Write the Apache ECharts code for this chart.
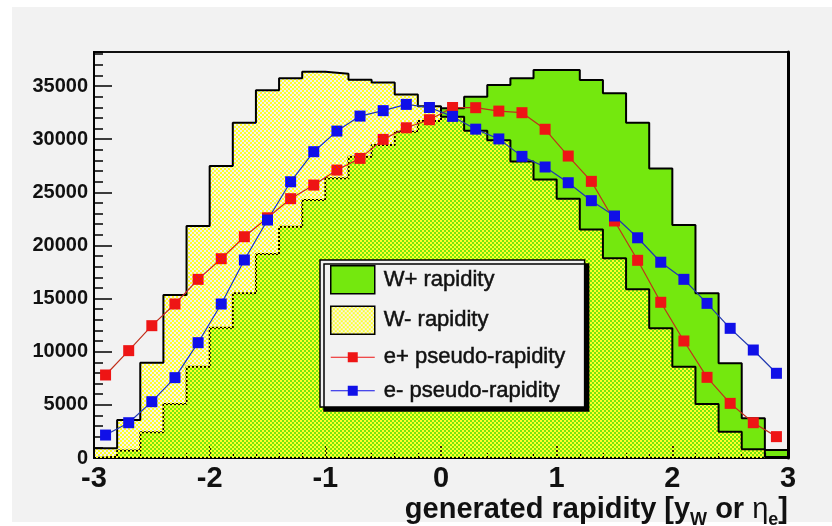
<!DOCTYPE html>
<html>
<head>
<meta charset="utf-8">
<title>W and electron rapidity</title>
<script src="https://cdn.jsdelivr.net/npm/echarts@6/dist/echarts.min.js"></script>
<style>
  html, body { margin: 0; padding: 0; background: #ffffff; }
  #chart { width: 832px; height: 526px; }
</style>
</head>
<body>
<div id="chart"></div>
<script>
// Rapidity bins: 30 bins of width 0.2 covering -3 .. 3
const binCentres = [-2.9, -2.7, -2.5, -2.3, -2.1, -1.9, -1.7, -1.5, -1.3, -1.1,
                    -0.9, -0.7, -0.5, -0.3, -0.1, 0.1, 0.3, 0.5, 0.7, 0.9,
                    1.1, 1.3, 1.5, 1.7, 1.9, 2.1, 2.3, 2.5, 2.7, 2.9];
const binWidth = 0.2;

// Generated W+ / W- rapidity (entries per bin)
const wPlusRapidity = [120, 700, 2420, 5080, 8590, 12260, 15490, 19200, 21760, 24270,
                       26310, 28350, 29450, 30700, 31700, 32900, 34000, 35090, 35720, 36500,
                       36500, 35560, 34310, 31540, 27250, 21920, 15490, 8910, 3730, 750];
const wMinusRapidity = [910, 3580, 8970, 15330, 21830, 27470, 31540, 34600, 35720, 36340,
                        36160, 35590, 35330, 34200, 33100, 32100, 30800, 29900, 27900, 26200,
                        24400, 21500, 18800, 15870, 12200, 8590, 5080, 2470, 820, 100];

// Decay electron pseudo-rapidity
const ePlusPseudoRapidity = [7810, 10100, 12450, 14490, 16810, 18750, 20820, 22600, 24400, 25680,
                             27090, 28190, 29980, 31070, 31830, 32980, 32960, 32640, 32490, 30930,
                             28410, 26030, 22300, 18600, 14650, 11010, 7590, 5140, 3320, 2010];
const eMinusPseudoRapidity = [2160, 3320, 5300, 7560, 10850, 14490, 18630, 22390, 25990, 28820,
                              30760, 32170, 32680, 33270, 32980, 32140, 30940, 30020, 28380, 27380,
                              25900, 24210, 22770, 20720, 18420, 16810, 14550, 12200, 10160, 7970];

// Axis tick labels
const xTickLabels = ['-3', '-2', '-1', '0', '1', '2', '3'];
const yTickLabels = ['0', '5000', '10000', '15000', '20000', '25000', '30000', '35000'];
const yAxisMax = 38200;

const seriesNames = ['W+ rapidity', 'W- rapidity', 'e+ pseudo-rapidity', 'e- pseudo-rapidity'];

const FONT = "'Liberation Sans', Arial, Helvetica, sans-serif";
const NARROW = "'Liberation Sans Narrow', 'Liberation Sans', Arial, sans-serif";
const GREEN = '#74e80e';
const PANEL = '#f2f2f2';

// Histogram outline as step points through the bin edges
function stepOutline(values) {
  const half = binWidth / 2;
  const r = v => Math.round(v * 1000) / 1000;
  const pts = [[r(binCentres[0] - half), 0]];
  values.forEach((v, i) => pts.push([r(binCentres[i] - half), v]));
  const last = binCentres.length - 1;
  pts.push([r(binCentres[last] + half), values[last]]);
  pts.push([r(binCentres[last] + half), 0]);
  return pts;
}

// Checkerboard hatch: coloured cells alternating with transparent ones
function checker(color, cell) {
  const c = document.createElement('canvas');
  c.width = c.height = cell * 2;
  const ctx = c.getContext('2d');
  ctx.fillStyle = color;
  ctx.fillRect(0, 0, cell, cell);
  ctx.fillRect(cell, cell, cell, cell);
  return c;
}
const yellowHatch = { image: checker('#ffff2a', 2), repeat: 'repeat' };

const xTickValues = xTickLabels.map(Number);
const yInterval = Number(yTickLabels[1]) - Number(yTickLabels[0]);

const chart = echarts.init(document.getElementById('chart'), null, { renderer: 'canvas' });

chart.setOption({
  animation: false,
  backgroundColor: '#ffffff',
  graphic: [{
    type: 'rect', left: 12, top: 7, z: -10, silent: true,
    shape: { width: 820, height: 515 },
    style: { fill: PANEL }
  }],
  grid: {
    left: 94, right: 44, top: 52, bottom: 68,
    show: true, backgroundColor: PANEL, borderColor: '#111', borderWidth: 2
  },
  title: {
    text: '{m|generated rapidity [y}{s|W}{m| or }{g|η}{s|e}{m|]}',
    right: 44, top: 492, padding: 0,
    textStyle: {
      rich: {
        m: { fontFamily: FONT, fontWeight: 'bold', fontSize: 29, color: '#111', lineHeight: 32, verticalAlign: 'bottom' },
        g: { fontFamily: FONT, fontWeight: 'normal', fontSize: 29, color: '#111', lineHeight: 32, verticalAlign: 'bottom' },
        s: { fontFamily: FONT, fontWeight: 'bold', fontSize: 18, color: '#111', lineHeight: 18, verticalAlign: 'bottom', padding: [0, 0, -5, 0] }
      }
    }
  },
  legend: {
    orient: 'vertical', left: 320, top: 260, z: 10,
    padding: [5, 19, 5, 10],
    itemWidth: 44, itemHeight: 28, itemGap: 11,
    backgroundColor: PANEL, borderColor: '#000', borderWidth: 1.5,
    shadowColor: '#000', shadowOffsetX: 4, shadowOffsetY: 4, shadowBlur: 0,
    selectedMode: false,
    textStyle: {
      fontFamily: FONT, fontSize: 22, color: '#111', padding: [0, 0, 0, 4],
      textBorderColor: '#111', textBorderWidth: 0.5
    },
    data: [
      { name: seriesNames[0], icon: 'rect', itemStyle: { color: GREEN, borderColor: '#000', borderWidth: 1.5 } },
      { name: seriesNames[1], icon: 'rect', itemStyle: { color: yellowHatch, borderColor: '#000', borderWidth: 1.5 } },
      { name: seriesNames[2], icon: 'path://M0,4.5h17v1h-17z M17,0h10v10h-10z M27,4.5h17v1h-17z', itemStyle: { color: '#ee1515', borderWidth: 0 } },
      { name: seriesNames[3], icon: 'path://M0,4.5h17v1h-17z M17,0h10v10h-10z M27,4.5h17v1h-17z', itemStyle: { color: '#1010e8', borderWidth: 0 } }
    ]
  },
  xAxis: {
    type: 'value', min: xTickValues[0], max: xTickValues[xTickValues.length - 1],
    interval: xTickValues[1] - xTickValues[0], z: 2,
    axisLine: { onZero: false, lineStyle: { color: '#000', width: 2 } },
    axisTick: { inside: true, length: 12, lineStyle: { color: '#000', width: 1.5 } },
    minorTick: { show: true, splitNumber: 5, length: 5, lineStyle: { color: '#000', width: 1.2 } },
    splitLine: { show: false },
    axisLabel: {
      margin: 6, fontFamily: NARROW, fontWeight: 'bold', fontSize: 29, color: '#111',
      formatter: v => xTickLabels[xTickValues.indexOf(v)] ?? ''
    }
  },
  yAxis: [
    {
      type: 'value', position: 'left', min: 0, max: yAxisMax, interval: yInterval,
      axisLine: { show: true, onZero: false, lineStyle: { color: '#000', width: 2 } },
      axisTick: { show: true, inside: true, length: 18, lineStyle: { color: '#000', width: 1.5 } },
      splitLine: { show: false },
      axisLabel: {
        margin: 6, fontFamily: FONT, fontWeight: 'bold', fontSize: 20, color: '#111',
        showMaxLabel: false,
        formatter: v => yTickLabels[Math.round(v / yInterval)] ?? ''
      }
    },
    {
      type: 'value', position: 'left', min: 0, max: yAxisMax, interval: yInterval / 5,
      axisLine: { show: false, onZero: false },
      axisTick: { show: true, inside: true, length: 9, lineStyle: { color: '#000', width: 1.5 } },
      axisLabel: { show: false },
      splitLine: { show: false }
    },
    {
      type: 'value', position: 'right', min: 0, max: yAxisMax,
      axisLine: { show: true, onZero: false, lineStyle: { color: '#000', width: 3 } },
      axisTick: { show: false }, axisLabel: { show: false }, splitLine: { show: false }
    }
  ],
  series: [
    {
      name: seriesNames[0], type: 'line', step: 'end', z: 1,
      data: stepOutline(wPlusRapidity),
      symbol: 'none', silent: true,
      lineStyle: { color: '#000', width: 2 },
      itemStyle: { color: GREEN },
      areaStyle: { color: GREEN, opacity: 1 }
    },
    {
      name: seriesNames[1], type: 'line', step: 'end', z: 3,
      data: stepOutline(wMinusRapidity),
      symbol: 'none', silent: true,
      lineStyle: { color: '#000', width: 2 },
      itemStyle: { color: '#ffff2a' },
      areaStyle: { color: yellowHatch, opacity: 1 }
    },
    {
      name: seriesNames[2], type: 'line', z: 5,
      data: binCentres.map((x, i) => [x, ePlusPseudoRapidity[i]]),
      symbol: 'rect', symbolSize: 11,
      itemStyle: { color: '#ee1515' },
      lineStyle: { color: '#c0301c', width: 1.2 }
    },
    {
      name: seriesNames[3], type: 'line', z: 5,
      data: binCentres.map((x, i) => [x, eMinusPseudoRapidity[i]]),
      symbol: 'rect', symbolSize: 11,
      itemStyle: { color: '#1010e8' },
      lineStyle: { color: '#2038b0', width: 1.2 }
    }
  ]
});
</script>
</body>
</html>
